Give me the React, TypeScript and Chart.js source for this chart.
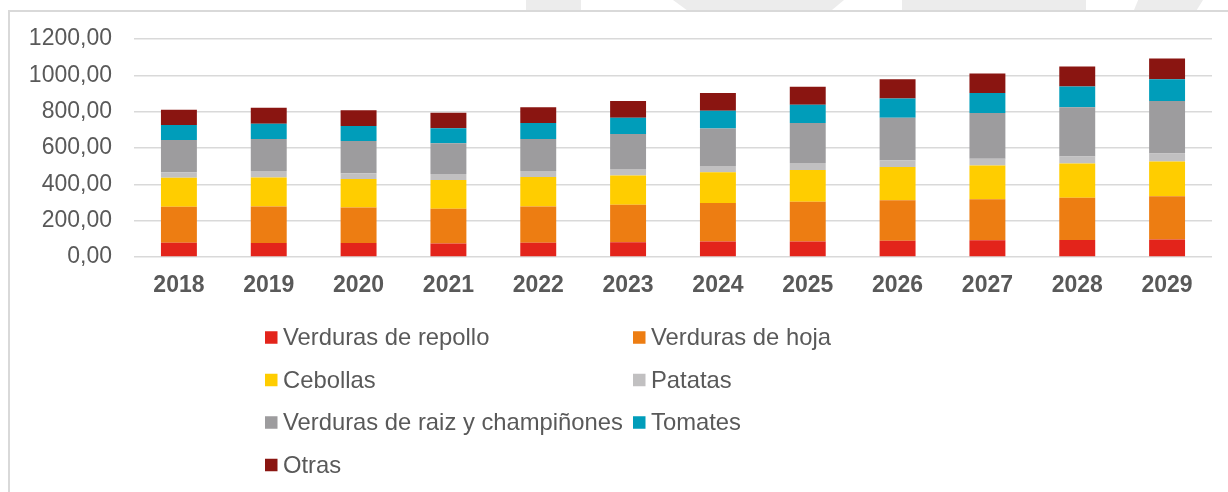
import { useEffect, useRef } from 'react';
import { Chart, registerables } from 'chart.js';

Chart.register(...registerables);

const years = ['2018', '2019', '2020', '2021', '2022', '2023', '2024', '2025', '2026', '2027', '2028', '2029'];

const repollo = [79, 77, 77, 75, 79, 81, 85, 85, 90, 92, 94, 96];
const hoja = [197, 201, 195, 191, 199, 206, 212, 219, 223, 226, 232, 239];
const cebollas = [160, 160, 158, 158, 162, 162, 169, 175, 182, 186, 188, 191];
const patatas = [31, 35, 31, 33, 33, 35, 35, 39, 37, 37, 39, 44];
const raiz = [177, 177, 177, 169, 177, 193, 206, 219, 234, 252, 271, 289];
const tomates = [83, 83, 83, 83, 87, 90, 98, 101, 107, 110, 114, 120];
const otras = [83, 88, 87, 85, 87, 92, 98, 99, 105, 107, 110, 114];

const seriesNames = [
  'Verduras de repollo',
  'Verduras de hoja',
  'Cebollas',
  'Patatas',
  'Verduras de raiz y champiñones',
  'Tomates',
  'Otras',
];
const seriesValues = [repollo, hoja, cebollas, patatas, raiz, tomates, otras];
const seriesColors = ['#e3241b', '#ed7d12', '#ffcd00', '#c1c0c1', '#9d9c9e', '#009dba', '#8a1511'];

const yMin = 0;
const yMax = 1200;
const yStep = 200;

const FONT = "'Liberation Sans', Arial, Helvetica, sans-serif";
const TEXT = '#595959';

const gridLegend = {
  id: 'gridLegend',
  afterDraw(chart: any, _args: any, opts: any) {
    const ctx = chart.ctx;
    ctx.save();
    ctx.font = `${opts.fontSize}px ${FONT}`;
    ctx.textBaseline = 'middle';
    ctx.textAlign = 'left';
    chart.data.datasets.forEach((ds: any, i: number) => {
      const col = i % 2;
      const row = Math.floor(i / 2);
      const x = opts.columns[col];
      const y = opts.top + row * opts.rowHeight;
      ctx.fillStyle = ds.backgroundColor;
      ctx.fillRect(x, y - opts.box / 2, opts.box, opts.box);
      ctx.fillStyle = opts.color;
      ctx.fillText(ds.label, x + opts.box + opts.gap, y + 1);
    });
    ctx.restore();
  },
};

export default function App() {
  const ref = useRef<HTMLCanvasElement | null>(null);

  useEffect(() => {
    if (!ref.current) return;
    const chart = new Chart(ref.current, {
      type: 'bar',
      data: {
        labels: years,
        datasets: seriesNames.map((name, i) => ({
          label: name,
          data: seriesValues[i],
          backgroundColor: seriesColors[i],
          borderWidth: 0,
          barPercentage: 0.4,
          categoryPercentage: 1.0,
        })),
      },
      plugins: [gridLegend],
      options: {
        responsive: false,
        animation: false,
        layout: { padding: { top: 39, right: 16, bottom: 185, left: 0 } },
        plugins: {
          legend: { display: false },
          tooltip: { enabled: false },
          gridLegend: {
            columns: [265, 633],
            top: 337.5,
            rowHeight: 42.5,
            box: 12.5,
            gap: 5.5,
            fontSize: 23.8,
            color: TEXT,
          },
        } as any,
        scales: {
          x: {
            stacked: true,
            grid: { display: false, drawTicks: false },
            border: { display: false },
            ticks: {
              padding: 15,
              color: TEXT,
              font: { family: FONT, size: 23, weight: 'bold' },
            },
            afterFit: (s: any) => {
              s.height = 50;
            },
          },
          y: {
            stacked: true,
            min: yMin,
            max: yMax,
            ticks: {
              stepSize: yStep,
              padding: 22,
              color: TEXT,
              font: { family: FONT, size: 23 },
              callback: (v: any) => Number(v).toFixed(2).replace('.', ','),
            },
            grid: { color: '#d9d9d9', lineWidth: 1.5, drawTicks: false },
            border: { display: false },
            afterFit: (s: any) => {
              s.width = 134;
            },
          },
        },
      },
    });
    return () => chart.destroy();
  }, []);

  const wm = '#ececec';
  return (
    <div style={{ position: 'fixed', left: 0, top: 0, width: 1228, height: 492, background: '#fff', overflow: 'hidden' }}>
      <div style={{ position: 'absolute', left: 526, top: 0, width: 55, height: 10, background: wm }} />
      <div
        style={{
          position: 'absolute', left: 673, top: 0, width: 171, height: 10, background: wm,
          clipPath: 'polygon(0 0, 100% 0, 93% 100%, 8% 100%)',
        }}
      />
      <div style={{ position: 'absolute', left: 902, top: 0, width: 184, height: 10, background: wm }} />
      <div
        style={{
          position: 'absolute', left: 1134, top: 0, width: 69, height: 10, background: wm,
          clipPath: 'polygon(6% 0, 100% 0, 91% 100%, 0 100%)',
        }}
      />
      <div
        style={{
          position: 'absolute', left: 8, top: 10, width: 1300, height: 600,
          borderLeft: '2px solid #d9d9d9', borderTop: '2px solid #d9d9d9',
        }}
      />
      <canvas ref={ref} width={1228} height={492} style={{ position: 'absolute', left: 0, top: 0, width: 1228, height: 492 }} />
    </div>
  );
}
